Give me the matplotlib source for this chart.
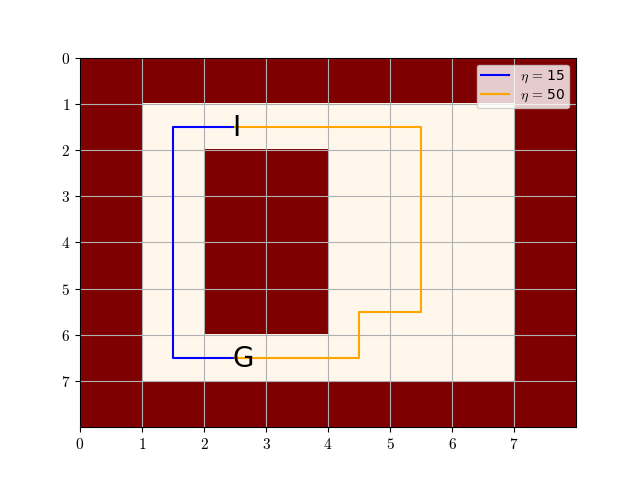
import numpy as np
import matplotlib.pyplot as plt

plt.rcParams['mathtext.fontset'] = 'cm'

# Peta dunia grid: 1 = dinding, 0 = bebas
grid = np.array([
    [1, 1, 1, 1, 1, 1, 1, 1],
    [1, 0, 0, 0, 0, 0, 0, 1],
    [1, 0, 1, 1, 0, 0, 0, 1],
    [1, 0, 1, 1, 0, 0, 0, 1],
    [1, 0, 1, 1, 0, 0, 0, 1],
    [1, 0, 1, 1, 0, 0, 0, 1],
    [1, 0, 0, 0, 0, 0, 0, 1],
    [1, 1, 1, 1, 1, 1, 1, 1],
])

start = (2, 1)  # (kolom, baris)
goal = (2, 6)

# Jalur (titik belok) untuk tiap eta
path_15_x = [2, 1, 1, 2]
path_15_y = [1, 1, 6, 6]
path_50_x = [2, 5, 5, 4, 4, 2]
path_50_y = [1, 1, 5, 5, 6, 6]

ticks = list(range(8))

fig, ax = plt.subplots()
ax.imshow(grid, cmap='OrRd', extent=[0, 8, 8, 0], aspect='auto')
ax.plot(np.array(path_15_x) + 0.5, np.array(path_15_y) + 0.5, color='blue', label=r'$\eta\,=\,$15')
ax.plot(np.array(path_50_x) + 0.5, np.array(path_50_y) + 0.5, color='orange', label=r'$\eta\,=\,$50')
ax.text(start[0] + 0.46, start[1] + 0.52, 'I', fontsize=20, ha='left', va='center')
ax.text(goal[0] + 0.46, goal[1] + 0.52, 'G', fontsize=20, ha='left', va='center')

ax.set_xticks(ticks, ['$%d$' % t for t in ticks], fontsize=11)
ax.set_yticks(ticks, ['$%d$' % t for t in ticks], fontsize=11)
ax.set_xlim(0, 8)
ax.set_ylim(8, 0)
ax.grid(True)
ax.legend(loc='upper right', labelspacing=0.2, borderpad=0.3)

fig.savefig('out.png', dpi=100)
